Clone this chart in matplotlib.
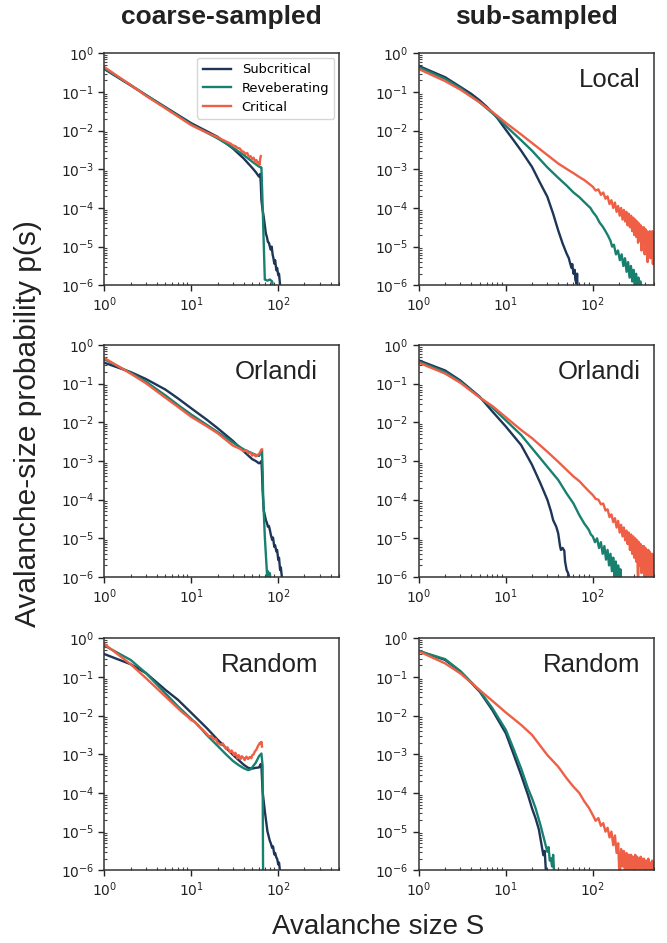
import numpy as np
import matplotlib
matplotlib.use("Agg")
import matplotlib.pyplot as plt

# avalanche sizes S and log10 p(S)
# ---- coarse-sampled, Local ----
cl_sub_S = [1, 2, 3, 5, 10, 20, 30, 40, 50, 55, 60, 62, 63, 64, 66, 68, 70, 72, 74, 76, 78, 80, 82, 84, 86, 88, 90, 92, 95, 97, 100, 102, 105, 108]
cl_sub_lp = [-0.41, -0.83, -1.08, -1.39, -1.81, -2.16, -2.46, -2.72, -2.96, -3.07, -3.19, -3.12, -3.4, -3.8, -4.05, -4.23, -4.45, -4.66, -4.75, -4.88, -4.9, -5.0, -5.08, -5.0, -5.2, -5.3, -5.44, -5.35, -5.61, -5.55, -5.74, -5.7, -6.0, -6.2]
cl_rev_S = [1, 2, 3, 5, 10, 20, 30, 40, 50, 60, 63, 64, 66, 68, 70, 75, 80, 85, 87]
cl_rev_lp = [-0.39, -0.82, -1.08, -1.40, -1.84, -2.2, -2.44, -2.63, -2.8, -2.93, -2.95, -2.95, -3.9, -4.9, -5.85, -5.88, -5.85, -5.9, -6.1]
cl_crit_S = [1, 2, 3, 5, 10, 15, 20, 22, 24, 26, 28, 30, 32, 34, 36, 38, 40, 42, 44, 46, 48, 50, 52, 54, 56, 58, 60, 61, 62, 63]
cl_crit_lp = [-0.36, -0.82, -1.1, -1.42, -1.86, -2.05, -2.17, -2.22, -2.26, -2.3, -2.33, -2.38, -2.4, -2.45, -2.46, -2.53, -2.55, -2.6, -2.58, -2.68, -2.66, -2.74, -2.7, -2.8, -2.76, -2.85, -2.82, -2.88, -2.72, -2.66]

# ---- sub-sampled, Local ----
sl_sub_S = [1, 2, 3, 4, 5, 6, 7, 8, 10, 12, 15, 20, 25, 30, 35, 40, 45, 50, 53, 55, 57, 58, 60, 62, 63, 65, 66, 67]
sl_sub_lp = [-0.33, -0.62, -0.87, -1.05, -1.22, -1.38, -1.53, -1.68, -1.98, -2.22, -2.52, -2.94, -3.37, -3.71, -4.15, -4.58, -4.92, -5.18, -5.3, -5.44, -5.55, -5.45, -5.7, -5.6, -5.85, -5.96, -5.7, -6.2]
sl_rev_S = [1, 2, 3, 5, 7, 8, 10, 15, 20, 30, 40, 50, 60, 70, 80, 94, 100, 110, 120, 130, 140, 150, 160, 167, 175, 185, 195, 205, 215, 225, 235, 245, 255, 265, 275, 285, 295, 305, 315, 325, 335, 345, 355, 370]
sl_rev_lp = [-0.36, -0.66, -0.9, -1.27, -1.55, -1.66, -1.88, -2.25, -2.52, -2.95, -3.22, -3.42, -3.6, -3.72, -3.85, -4.0, -4.1, -4.22, -4.38, -4.48, -4.6, -4.72, -4.85, -5.0, -4.95, -5.2, -5.1, -5.35, -5.2, -5.5, -5.3, -5.65, -5.4, -5.8, -5.5, -5.9, -5.6, -6.1, -5.7, -6.2, -5.8, -6.2, -5.9, -6.2]
sl_crit_S = [1, 2, 3, 5, 7, 8, 10, 15, 20, 30, 40, 50, 60, 70, 80, 90, 100, 108, 116, 124, 132, 140, 148, 156, 164, 172, 180, 188, 196, 204, 212, 220, 228, 236, 244, 252, 260, 268, 276, 284, 292, 300, 308, 316, 324, 332, 340, 348, 356, 364, 372, 380, 388, 396, 404, 412, 420, 428, 436, 444, 452, 460, 468, 476, 484, 492, 500]
sl_crit_lp = [-0.41, -0.72, -0.94, -1.27, -1.52, -1.62, -1.8, -2.1, -2.32, -2.63, -2.85, -2.99, -3.1, -3.2, -3.28, -3.37, -3.45, -3.55, -3.52, -3.66, -3.6, -3.76, -3.7, -3.9, -3.8, -4.0, -3.86, -4.1, -3.95, -4.2, -4.0, -4.3, -4.05, -4.35, -4.1, -4.45, -4.15, -4.5, -4.2, -4.6, -4.25, -4.7, -4.3, -4.75, -4.35, -4.9, -4.4, -4.85, -4.45, -5.1, -4.5, -4.9, -4.5, -5.2, -4.55, -5.0, -4.6, -5.4, -4.65, -5.1, -4.6, -5.3, -4.7, -5.2, -4.6, -5.45, -4.8]

# ---- coarse-sampled, Orlandi ----
co_sub_S = [1, 2, 3, 5, 7, 10, 15, 20, 30, 40, 50, 55, 60, 62, 64, 65, 66, 68, 70, 72, 74, 76, 78, 80, 82, 85, 87, 90, 92, 95, 97, 100, 102, 105, 107, 110, 112]
co_sub_lp = [-0.46, -0.7, -0.88, -1.15, -1.38, -1.64, -1.93, -2.15, -2.48, -2.75, -2.95, -3.0, -3.06, -3.04, -3.0, -3.3, -3.75, -4.27, -4.4, -4.53, -4.6, -4.7, -4.68, -4.78, -4.9, -5.04, -4.98, -5.22, -5.18, -5.34, -5.3, -5.56, -5.5, -5.82, -5.75, -6.0, -6.2]
co_rev_S = [1, 2, 3, 5, 7, 10, 20, 30, 40, 50, 55, 60, 63, 65, 66, 67, 70, 73, 75, 76, 78, 80, 82]
co_rev_lp = [-0.37, -0.72, -0.95, -1.3, -1.55, -1.8, -2.25, -2.52, -2.7, -2.8, -2.84, -2.87, -2.8, -2.72, -3.2, -3.92, -4.96, -5.65, -6.1, -5.85, -5.95, -5.9, -6.2]
co_crit_S = [1, 2, 3, 5, 7, 10, 15, 20, 30, 36, 40, 43, 45, 48, 50, 52, 55, 58, 60, 62, 64, 65]
co_crit_lp = [-0.34, -0.74, -0.99, -1.36, -1.6, -1.86, -2.1, -2.28, -2.6, -2.68, -2.75, -2.72, -2.8, -2.78, -2.86, -2.82, -2.88, -2.84, -2.82, -2.76, -2.7, -2.7]

# ---- sub-sampled, Orlandi ----
so_sub_S = [1, 2, 3, 5, 7, 10, 15, 20, 25, 30, 33, 35, 38, 40, 42, 43, 45, 47, 48, 50, 52, 55]
so_sub_lp = [-0.40, -0.66, -0.92, -1.34, -1.72, -2.11, -2.59, -3.1, -3.58, -4.0, -4.3, -4.53, -4.7, -4.87, -5.2, -5.3, -5.25, -5.32, -5.6, -5.82, -5.9, -6.1]
so_rev_S = [1, 2, 3, 5, 7, 10, 15, 20, 30, 40, 50, 60, 70, 80, 85, 90, 95, 100, 106, 112, 118, 124, 130, 136, 142, 148, 154, 160, 166, 172, 178, 184, 190, 196, 202, 208, 214]
so_rev_lp = [-0.43, -0.7, -0.95, -1.35, -1.62, -1.95, -2.33, -2.67, -3.15, -3.49, -3.84, -4.1, -4.4, -4.62, -4.7, -4.78, -4.9, -4.95, -5.1, -5.0, -5.25, -5.1, -5.4, -5.2, -5.55, -5.3, -5.7, -5.4, -5.85, -5.5, -6.0, -5.6, -6.2, -5.7, -6.2, -5.8, -6.3]
so_crit_S = [1, 2, 3, 5, 7, 10, 15, 20, 30, 40, 50, 60, 70, 80, 90, 100, 108, 116, 124, 132, 140, 148, 156, 164, 172, 180, 188, 196, 204, 212, 220, 228, 236, 244, 252, 260, 268, 276, 284, 292, 300, 308, 316, 324, 332, 340, 348, 356, 364, 372, 380, 388, 396, 404, 412, 420, 428, 436, 444, 452, 460, 468, 476, 484, 492, 500]
so_crit_lp = [-0.46, -0.74, -0.98, -1.36, -1.58, -1.87, -2.2, -2.41, -2.76, -3.02, -3.23, -3.4, -3.52, -3.66, -3.78, -3.88, -3.98, -4.0, -4.12, -4.1, -4.28, -4.25, -4.45, -4.38, -4.58, -4.48, -4.72, -4.55, -4.85, -4.65, -4.95, -4.72, -5.05, -4.8, -5.15, -4.85, -5.3, -4.9, -5.4, -4.95, -5.5, -5.0, -5.6, -5.05, -6.3, -5.1, -5.7, -5.15, -5.9, -5.2, -5.75, -5.2, -6.0, -5.25, -5.8, -5.3, -6.3, -5.3, -5.9, -5.35, -6.3, -5.4, -5.95, -5.4, -6.3, -5.45]

# ---- coarse-sampled, Random ----
cr_sub_S = [1, 2, 3, 5, 7, 10, 15, 20, 30, 40, 45, 50, 55, 60, 63, 64, 66, 70, 75, 80, 82, 85, 87, 90, 92, 95, 97, 100, 102, 105]
cr_sub_lp = [-0.41, -0.67, -0.9, -1.33, -1.59, -1.93, -2.32, -2.62, -3.01, -3.27, -3.35, -3.37, -3.35, -3.34, -3.25, -3.3, -3.96, -4.47, -4.99, -5.24, -5.3, -5.42, -5.38, -5.59, -5.55, -5.67, -5.7, -5.85, -5.8, -6.05]
cr_rev_S = [1, 2, 3, 5, 7, 10, 12, 15, 20, 25, 30, 35, 40, 45, 48, 50, 55, 60, 64, 66, 67]
cr_rev_lp = [-0.19, -0.56, -0.9, -1.42, -1.76, -2.09, -2.25, -2.5, -2.78, -3.0, -3.17, -3.28, -3.36, -3.41, -3.39, -3.34, -3.22, -3.05, -2.98, -3.3, -6.5]
cr_crit_S = [1, 2, 3, 5, 7, 8, 9, 10, 11, 12, 13, 14, 15, 16, 17, 18, 19, 20, 22, 23, 25, 26, 28, 29, 31, 32, 34, 35, 37, 38, 40, 41, 43, 45, 47, 49, 50, 52, 54, 56, 58, 60, 62, 63, 64, 65]
cr_crit_lp = [-0.15, -0.67, -1.03, -1.5, -1.81, -1.93, -2.02, -2.12, -2.16, -2.27, -2.33, -2.4, -2.47, -2.54, -2.52, -2.62, -2.6, -2.7, -2.76, -2.72, -2.86, -2.82, -2.95, -2.9, -3.02, -2.96, -3.1, -3.02, -3.12, -3.05, -3.1, -3.15, -3.06, -3.12, -3.07, -3.1, -3.03, -3.0, -2.92, -2.88, -2.8, -2.74, -2.7, -2.72, -2.68, -2.8]

# ---- sub-sampled, Random ----
sr_sub_S = [1, 2, 3, 5, 7, 10, 12, 15, 18, 20, 22, 24, 25, 26, 27, 28, 29]
sr_sub_lp = [-0.33, -0.56, -0.86, -1.38, -1.86, -2.46, -2.94, -3.54, -4.06, -4.4, -4.66, -4.95, -5.18, -5.4, -5.61, -5.5, -6.1]
sr_rev_S = [1, 2, 3, 5, 7, 10, 12, 15, 18, 20, 22, 25, 28, 30, 31, 32, 33, 34, 35, 36]
sr_rev_lp = [-0.33, -0.54, -0.85, -1.36, -1.81, -2.37, -2.81, -3.37, -3.89, -4.14, -4.4, -4.83, -5.26, -5.52, -5.4, -5.75, -5.69, -5.9, -5.6, -6.1]
sr_crit_S = [1, 2, 3, 5, 7, 10, 15, 20, 30, 40, 50, 60, 70, 80, 90, 100, 108, 116, 124, 132, 140, 148, 156, 164, 172, 180, 188, 196, 204, 212, 220, 228, 236, 244, 252, 260, 268, 276, 284, 292, 300, 308, 316, 324, 332, 340, 348, 356, 364, 372, 380, 388, 396, 404, 412, 420, 428, 436, 444, 452, 460, 468, 476, 484, 492, 500]
sr_crit_lp = [-0.34, -0.65, -0.91, -1.34, -1.62, -1.92, -2.24, -2.5, -3.02, -3.32, -3.62, -3.84, -4.0, -4.22, -4.38, -4.57, -4.72, -4.65, -4.85, -4.78, -5.0, -4.9, -5.15, -5.0, -5.35, -5.1, -5.55, -5.3, -6.3, -5.45, -5.9, -5.5, -6.3, -5.55, -6.0, -5.6, -6.3, -5.6, -6.1, -5.65, -6.3, -5.6, -6.1, -5.65, -6.3, -5.7, -6.2, -5.65, -6.3, -5.7, -6.3, -5.7, -6.2, -5.75, -6.3, -5.75, -6.3, -5.7, -6.3, -5.8, -6.3, -5.8, -6.3, -5.75, -6.3, -5.85]

col_titles = ["coarse-sampled", "sub-sampled"]
series_names = ["Subcritical", "Reveberating", "Critical"]
colors = ["#1d3557", "#18806f", "#ef5f45"]

panels = [
    [(cl_sub_S, cl_sub_lp, cl_rev_S, cl_rev_lp, cl_crit_S, cl_crit_lp),
     (sl_sub_S, sl_sub_lp, sl_rev_S, sl_rev_lp, sl_crit_S, sl_crit_lp)],
    [(co_sub_S, co_sub_lp, co_rev_S, co_rev_lp, co_crit_S, co_crit_lp),
     (so_sub_S, so_sub_lp, so_rev_S, so_rev_lp, so_crit_S, so_crit_lp)],
    [(cr_sub_S, cr_sub_lp, cr_rev_S, cr_rev_lp, cr_crit_S, cr_crit_lp),
     (sr_sub_S, sr_sub_lp, sr_rev_S, sr_rev_lp, sr_crit_S, sr_crit_lp)],
]
panel_text = [[None, "Local"], ["Orlandi", "Orlandi"], ["Random", "Random"]]

W, H = 667, 943
fig = plt.figure(figsize=(W / 100, H / 100), dpi=100)

col_x = [104.5, 419]
row_top = [53.3, 345, 638.3]
ax_w, ax_h = 234.5, 232

label_font = "Liberation Sans"

for r in range(3):
    for c in range(2):
        x0 = col_x[c] / W
        y0 = 1 - (row_top[r] + ax_h) / H
        ax = fig.add_axes([x0, y0, ax_w / W, ax_h / H])
        d = panels[r][c]
        for k in range(3):
            S = np.array(d[2 * k])
            p = np.power(10.0, np.array(d[2 * k + 1]))
            ax.plot(S, p, color=colors[k], lw=1.7, label=series_names[k])
        ax.set_xscale("log")
        ax.set_yscale("log")
        ax.set_xlim(1, 500)
        ax.set_ylim(1e-6, 1)
        ax.tick_params(which="major", direction="out", length=4, width=1, labelsize=10, colors="#222222")
        ax.tick_params(which="minor", direction="in", length=2.5, width=0.8, colors="#444444")
        for sp in ax.spines.values():
            sp.set_color("#333333")
            sp.set_linewidth(1.1)
        txt = panel_text[r][c]
        if txt:
            xr = 0.91 if c == 0 else 0.944
            ax.text(xr, 0.855, txt, transform=ax.transAxes, ha="right", va="baseline",
                    fontsize=18.5, family=label_font, color="#222222")
        if r == 0 and c == 0:
            ax.legend(loc="upper right", fontsize=9.4, handlelength=2.2, borderaxespad=0.35,
                      labelspacing=0.45)

for c in range(2):
    xc = (col_x[c] + ax_w / 2) / W
    fig.text(xc, 1 - 17 / H, col_titles[c], ha="center", va="center", fontsize=19,
             fontweight="bold", family=label_font, color="#222222")

fig.text(28 / W, 1 - 424 / H, "Avalanche-size probability p(s)", rotation=90, ha="center",
         va="center", fontsize=21.5, family=label_font, color="#222222")
fig.text(378 / W, 1 - 927 / H, "Avalanche size S", ha="center", va="center", fontsize=20,
         family=label_font, color="#222222")

fig.savefig("out.png", dpi=100)
